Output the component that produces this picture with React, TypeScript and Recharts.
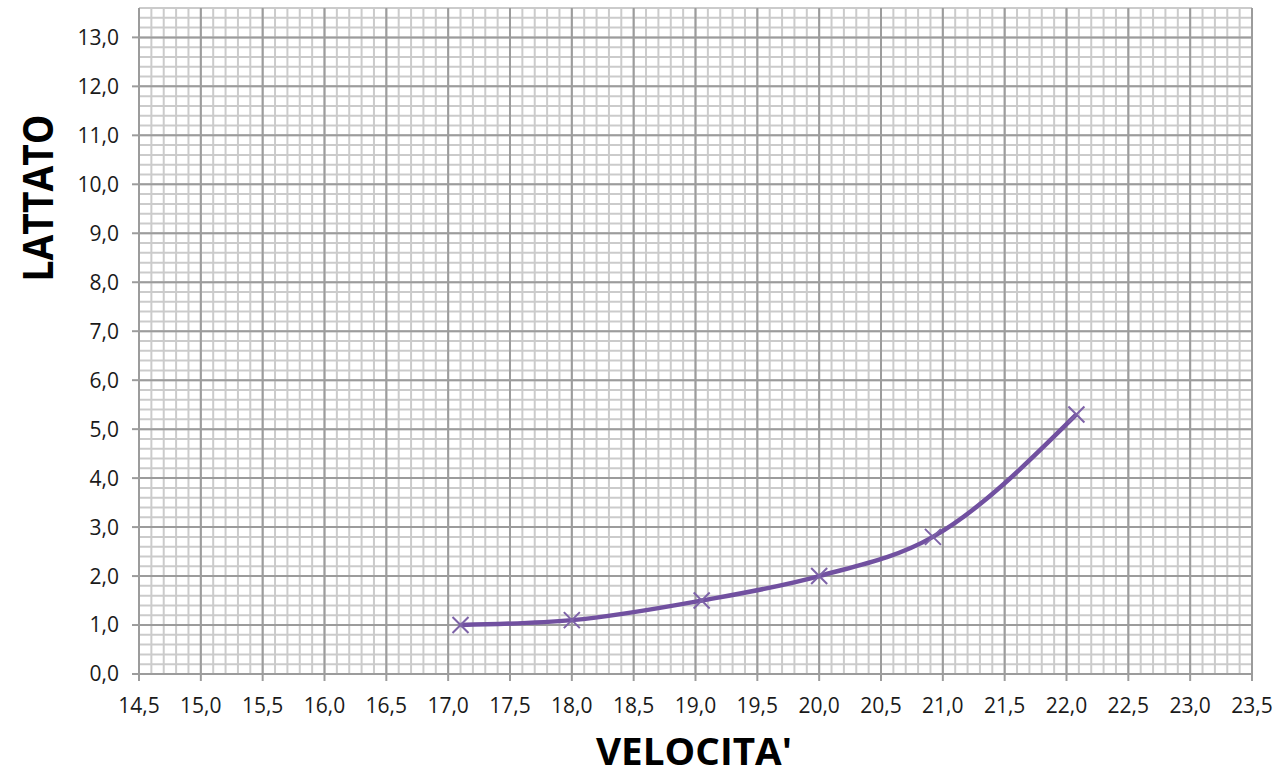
import { LineChart, Line, XAxis, YAxis, CartesianGrid } from 'recharts'

// lactate test: speed vs blood lactate
const velocita = [17.1, 18.0, 19.05, 20.0, 20.92, 22.08]
const lattato = [1.0, 1.1, 1.5, 2.0, 2.8, 5.3]

const xTicks = [14.5, 15, 15.5, 16, 16.5, 17, 17.5, 18, 18.5, 19, 19.5, 20, 20.5, 21, 21.5, 22, 22.5, 23, 23.5]
const yTicks = [0, 1, 2, 3, 4, 5, 6, 7, 8, 9, 10, 11, 12, 13]

const X_MIN = 14.5
const X_MAX = 23.5
const Y_MAX = 13.6

const data = velocita.map((v, i) => ({ v, l: lattato[i] }))

// fine graph-paper grid: 0.1 across, 0.2 up
const minorX: number[] = []
for (let i = 0; i <= Math.round((X_MAX - X_MIN) * 10); i++) minorX.push(Math.round((X_MIN * 10 + i)) / 10)
const minorY: number[] = []
for (let i = 0; i <= Math.round(Y_MAX * 5); i++) minorY.push(Math.round(i * 2) / 10)

const PURPLE = '#7150a0'
const MAJOR = '#9c9c9c'
const MINOR = '#cbcbcb'
const FONT = "'Open Sans', 'Noto Sans', sans-serif"

const fmt = (n: number) => n.toFixed(1).replace('.', ',')

// x-shaped marker
// eslint-disable-next-line @typescript-eslint/no-explicit-any
function CrossDot(props: any) {
  const { cx, cy, index } = props
  if (cx == null || cy == null) return null
  const r = 8
  return (
    <g key={`dot-${index}`} stroke="#7d62a8" strokeWidth={2}>
      <line x1={cx - r} y1={cy - r} x2={cx + r} y2={cy + r} />
      <line x1={cx - r} y1={cy + r} x2={cx + r} y2={cy - r} />
    </g>
  )
}

export default function App() {
  return (
    <div style={{ position: 'absolute', left: 0, top: 0, width: 1280, height: 778, background: '#fff' }}>
      <LineChart width={1280} height={778} data={data} margin={{ top: 8, right: 28, left: 79, bottom: 44 }}>
        <CartesianGrid
          stroke={MINOR}
          strokeWidth={2}
          verticalValues={minorX}
          horizontalValues={minorY}
        />
        <CartesianGrid
          stroke={MAJOR}
          strokeWidth={2}
          verticalValues={xTicks}
          horizontalValues={yTicks}
        />
        <XAxis
          type="number"
          dataKey="v"
          domain={[X_MIN, X_MAX]}
          ticks={xTicks}
          interval={0}
          allowDataOverflow
          tickFormatter={fmt}
          height={60}
          tickSize={7}
          tickMargin={17}
          axisLine={{ stroke: MAJOR, strokeWidth: 2 }}
          tickLine={{ stroke: MAJOR, strokeWidth: 2 }}
          tick={{ fontSize: 21, fill: '#1a1a1a', fontFamily: FONT }}
        />
        <YAxis
          type="number"
          domain={[0, Y_MAX]}
          ticks={yTicks}
          interval={0}
          allowDataOverflow
          tickFormatter={fmt}
          width={60}
          tickSize={7}
          tickMargin={13}
          axisLine={{ stroke: MAJOR, strokeWidth: 2 }}
          tickLine={{ stroke: MAJOR, strokeWidth: 2 }}
          tick={{ fontSize: 21, fill: '#1a1a1a', fontFamily: FONT }}
        />
        <Line
          type="monotone"
          dataKey="l"
          stroke={PURPLE}
          strokeWidth={4.5}
          dot={<CrossDot />}
          activeDot={false}
          isAnimationActive={false}
        />
      </LineChart>
      <svg
        width={1280}
        height={778}
        style={{ position: 'absolute', left: 0, top: 0, pointerEvents: 'none' }}
      >
        <text
          x={694}
          y={765}
          textAnchor="middle"
          fontFamily={FONT}
          fontWeight={700}
          fontSize={38}
          textLength={196}
          lengthAdjust="spacingAndGlyphs"
          fill="#000"
        >
          VELOCITA'
        </text>
        <text
          transform="translate(53,198) rotate(-90)"
          textAnchor="middle"
          fontFamily={FONT}
          fontWeight={700}
          fontSize={42}
          textLength={167}
          lengthAdjust="spacingAndGlyphs"
          fill="#000"
        >
          LATTATO
        </text>
      </svg>
    </div>
  )
}
